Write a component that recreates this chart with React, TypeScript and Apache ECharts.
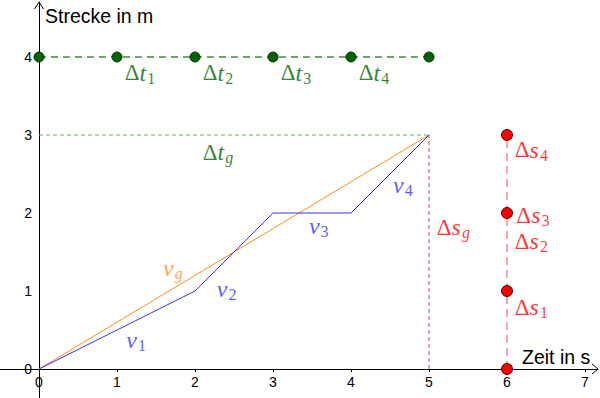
import React, { useEffect, useRef } from 'react';
import * as echarts from 'echarts';

// axes
const xTicks = [0, 1, 2, 3, 4, 5, 6, 7];
const yTicks = [0, 1, 2, 3, 4];
const xAxisTitle = 'Zeit in s';
const yAxisTitle = 'Strecke in m';

// motion (time in s, distance in m)
const motionTime = [0, 2, 3, 4, 5];
const motionDist = [0, 1, 2, 2, 3];

// time interval marks (on level 4)
const intervalTimes = [0, 1, 2, 3, 4, 5];
const intervalLevel = 4;

// distance interval marks (at t = 6)
const distMarks = [0, 1, 2, 3];
const distMarkTime = 6;

const totalTime = 5;
const totalDist = 3;

const GREEN = '#006400';
const RED = '#ff0000';
const BLUE = '#3030ff';
const ORANGE = '#ff8c1a';

// annotation labels
const annoSymbols = ['Δt', 'Δt', 'Δt', 'Δt', 'Δt', 'Δs', 'Δs', 'Δs', 'Δs', 'Δs', 'v', 'v', 'v', 'v', 'v'];
const annoSubs = ['1', '2', '3', '4', 'g', '1', '2', '3', '4', 'g', '1', '2', '3', '4', 'g'];
const annoX = [1.1, 2.1, 3.1, 4.1, 2.1, 6.1, 6.1, 6.12, 6.1, 5.1, 1.12, 2.28, 3.46, 4.54, 1.59];
const annoY = [3.8, 3.8, 3.8, 3.8, 2.78, 0.79, 1.64, 1.97, 2.81, 1.82, 0.375, 1.02, 1.83, 2.36, 1.29];
const annoColors = [GREEN, GREEN, GREEN, GREEN, GREEN, RED, RED, RED, RED, RED, BLUE, BLUE, BLUE, BLUE, ORANGE];

export default function App() {
  const ref = useRef<HTMLDivElement>(null);
  useEffect(() => {
    document.body.style.margin = '0';
    if (!ref.current) return;
    const chart = echarts.init(ref.current, null, { renderer: 'svg' });

    const unit = 78;
    const W = 600, H = 398;
    const ox = 39, oy = 369; // pixel of origin
    const gLeft = 0, gRight = 2, gTop = 2, gBottom = 0;
    const xMin = -(ox - gLeft) / unit;
    const xMax = xMin + (W - gLeft - gRight) / unit;
    const yMin = -(H - gBottom - oy) / unit;
    const yMax = yMin + (H - gTop - gBottom) / unit;

    const serif = 'Liberation Serif';
    const sans = 'Liberation Sans';
    const rich = {
      d: { fontFamily: serif, fontSize: 23, lineHeight: 26 },
      i: { fontFamily: serif, fontStyle: 'italic', fontSize: 24, lineHeight: 26 },
      s: { fontFamily: serif, fontSize: 16, lineHeight: 16, padding: [11, 0, 0, 1] },
      si: { fontFamily: serif, fontStyle: 'italic', fontSize: 16, lineHeight: 16, padding: [11, 0, 0, 1] },
    };

    const annoData = annoSymbols.map((sym, k) => {
      const hasDelta = sym.startsWith('Δ');
      const v = hasDelta ? sym.slice(1) : sym;
      const sub = annoSubs[k];
      const txt = (hasDelta ? '{d|Δ}' : '') + '{i|' + v + '}' + (sub === 'g' ? '{si|g}' : '{s|' + sub + '}');
      return {
        value: [annoX[k], annoY[k]],
        label: { formatter: txt, color: annoColors[k] },
      };
    });

    const dashed = (x1: number, y1: number, x2: number, y2: number, color: string, dash: number[], width: number) => ({
      type: 'line',
      data: [[x1, y1], [x2, y2]],
      symbol: 'none',
      silent: true,
      lineStyle: { color, width, type: dash },
      z: 2,
    });

    const axisCommon = {
      type: 'value',
      splitLine: { show: false },
    };

    const option: any = {
      animation: false,
      textStyle: { fontFamily: sans },
      grid: { left: gLeft, right: gRight, top: gTop, bottom: gBottom, outerBoundsMode: 'none', containLabel: false },
      xAxis: {
        ...axisCommon,
        min: xMin,
        max: xMax,
        position: 'bottom',
        offset: -(H - gBottom - oy),
        axisLine: { onZero: false, lineStyle: { color: '#000', width: 1 } },
        axisTick: { show: true, length: 3, customValues: xTicks, lineStyle: { color: '#000' } },
        axisLabel: {
          customValues: xTicks,
          fontFamily: sans,
          fontSize: 14,
          color: '#000',
          margin: 6,
          formatter: (v: number) => String(v),
        },
      },
      yAxis: {
        ...axisCommon,
        min: yMin,
        max: yMax,
        position: 'left',
        offset: -(ox - gLeft),
        axisLine: { onZero: false, lineStyle: { color: '#000', width: 1 } },
        axisTick: { show: false },
        axisLabel: {
          customValues: yTicks,
          fontFamily: sans,
          fontSize: 14,
          color: '#000',
          margin: 7,
          formatter: (v: number) => String(v),
        },
      },
      graphic: [
        {
          type: 'text',
          left: 45,
          top: 6,
          style: { text: yAxisTitle, fontFamily: sans, fontSize: 19.5, fill: '#000' },
        },
        {
          type: 'text',
          left: 522,
          top: 347,
          style: { text: xAxisTitle, fontFamily: sans, fontSize: 19.5, fill: '#000' },
        },
        {
          type: 'polyline',
          shape: { points: [[W - gRight - 6, oy - 5], [W - gRight, oy], [W - gRight - 6, oy + 5]] },
          style: { stroke: '#000', lineWidth: 1, fill: 'none' },
        },
        {
          type: 'polyline',
          shape: { points: [[ox - 4.5, gTop + 7], [ox, gTop], [ox + 4.5, gTop + 7]] },
          style: { stroke: '#000', lineWidth: 1, fill: 'none' },
        },
      ],
      series: [
        dashed(intervalTimes[0], intervalLevel, intervalTimes[intervalTimes.length - 1], intervalLevel, '#3a8f3a', [7, 5], 1.3),
        dashed(0, totalDist, totalTime, totalDist, '#6aa86a', [4, 3], 1),
        dashed(totalTime, 0, totalTime, totalDist, '#e23a3a', [4, 3], 1),
        dashed(distMarkTime, distMarks[0], distMarkTime, distMarks[distMarks.length - 1], '#ee5050', [8, 5], 1),
        {
          type: 'line',
          data: [[0, 0], [totalTime, totalDist]],
          symbol: 'none',
          lineStyle: { color: ORANGE, width: 1 },
          z: 3,
        },
        {
          type: 'line',
          data: motionTime.map((t, k) => [t, motionDist[k]]),
          symbol: 'none',
          lineStyle: { color: BLUE, width: 1 },
          z: 4,
        },
        {
          type: 'scatter',
          data: intervalTimes.map((t) => [t, intervalLevel]),
          symbolSize: 10,
          itemStyle: { color: GREEN, borderColor: '#0a2a0a', borderWidth: 1, opacity: 1 },
          z: 5,
        },
        {
          type: 'scatter',
          data: distMarks.map((s) => [distMarkTime, s]),
          symbolSize: 11,
          itemStyle: { color: RED, borderColor: '#400000', borderWidth: 1, opacity: 1 },
          z: 5,
        },
        {
          type: 'scatter',
          data: annoData,
          symbolSize: 0,
          silent: true,
          label: { show: true, position: 'right', distance: 0, fontFamily: serif, rich },
          z: 6,
        },
      ],
    };
    chart.setOption(option);
    return () => chart.dispose();
  }, []);
  return <div ref={ref} style={{ width: 600, height: 398 }} />;
}
